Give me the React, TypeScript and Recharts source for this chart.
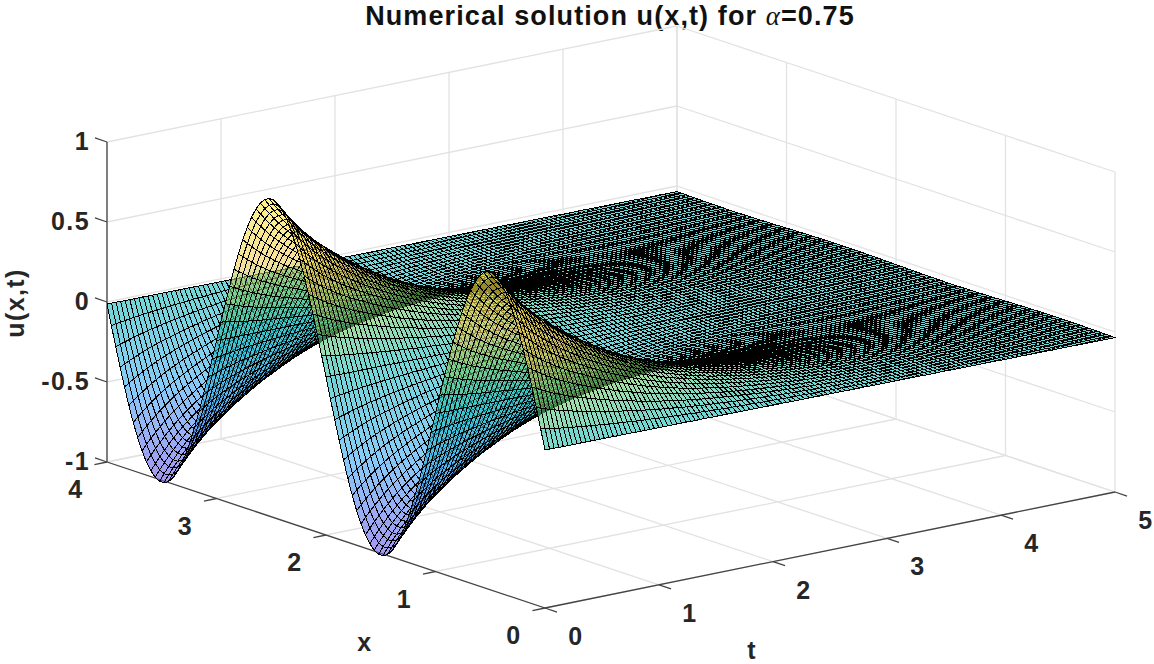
import { Scatter, ScatterChart, XAxis, YAxis } from "recharts";

const WIDTH = 1154;
const HEIGHT = 664;

// u along x at t = 0, one reading every 0.04 in x
const profileAtStart = [
  0, 0.125, 0.249, 0.368, 0.482, 0.588, 0.685, 0.771, 0.844, 0.905, 0.951, 0.982, 0.998, 0.998, 0.982, 0.951, 0.905,
  0.844, 0.771, 0.685, 0.588, 0.482, 0.368, 0.249, 0.125, 0, -0.125, -0.249, -0.368, -0.482, -0.588, -0.685, -0.771,
  -0.844, -0.905, -0.951, -0.982, -0.998, -0.998, -0.982, -0.951, -0.905, -0.844, -0.771, -0.685, -0.588, -0.482,
  -0.368, -0.249, -0.125, 0, 0.125, 0.249, 0.368, 0.482, 0.588, 0.685, 0.771, 0.844, 0.905, 0.951, 0.982, 0.998, 0.998,
  0.982, 0.951, 0.905, 0.844, 0.771, 0.685, 0.588, 0.482, 0.368, 0.249, 0.125, 0, -0.125, -0.249, -0.368, -0.482,
  -0.588, -0.685, -0.771, -0.844, -0.905, -0.951, -0.982, -0.998, -0.998, -0.982, -0.951, -0.905, -0.844, -0.771,
  -0.685, -0.588, -0.482, -0.368, -0.249, -0.125, 0,
];

// how far the wave has decayed, one reading every 0.04 in t
const decayOverTime = [
  1, 0.958, 0.919, 0.882, 0.846, 0.813, 0.782, 0.752, 0.724, 0.697, 0.672, 0.648, 0.625, 0.602, 0.58, 0.558, 0.537,
  0.517, 0.497, 0.478, 0.46, 0.442, 0.424, 0.407, 0.39, 0.374, 0.359, 0.344, 0.33, 0.317, 0.304, 0.292, 0.28, 0.268,
  0.257, 0.247, 0.237, 0.227, 0.218, 0.209, 0.2, 0.192, 0.184, 0.176, 0.169, 0.162, 0.156, 0.149, 0.143, 0.137, 0.132,
  0.126, 0.121, 0.116, 0.112, 0.107, 0.103, 0.099, 0.095, 0.091, 0.087, 0.084, 0.081, 0.077, 0.074, 0.071, 0.069,
  0.066, 0.063, 0.06, 0.058, 0.056, 0.053, 0.051, 0.049, 0.047, 0.045, 0.044, 0.042, 0.04, 0.039, 0.037, 0.036, 0.034,
  0.033, 0.032, 0.031, 0.029, 0.028, 0.027, 0.026, 0.025, 0.024, 0.023, 0.022, 0.021, 0.021, 0.02, 0.019, 0.018, 0.017,
  0.017, 0.016, 0.016, 0.015, 0.014, 0.014, 0.013, 0.013, 0.012, 0.012, 0.011, 0.011, 0.01, 0.01, 0.01, 0.009, 0.009,
  0.009, 0.008, 0.008, 0.008, 0.007, 0.007, 0.007, 0.006,
];

// the surface sits a little under u = 0 on its flat edges, one reading every 0.04 in t
const edgeLevelOverTime = [
  -0.013, -0.013, -0.013, -0.014, -0.014, -0.014, -0.014, -0.014, -0.014, -0.015, -0.015, -0.015, -0.015, -0.015,
  -0.015, -0.016, -0.016, -0.016, -0.016, -0.016, -0.017, -0.017, -0.017, -0.017, -0.017, -0.017, -0.018, -0.018,
  -0.018, -0.018, -0.018, -0.018, -0.019, -0.019, -0.019, -0.019, -0.019, -0.02, -0.02, -0.02, -0.02, -0.02, -0.02,
  -0.021, -0.021, -0.021, -0.021, -0.021, -0.021, -0.022, -0.022, -0.022, -0.022, -0.022, -0.023, -0.023, -0.023,
  -0.023, -0.023, -0.023, -0.024, -0.024, -0.024, -0.024, -0.024, -0.024, -0.025, -0.025, -0.025, -0.025, -0.025,
  -0.026, -0.026, -0.026, -0.026, -0.026, -0.026, -0.027, -0.027, -0.027, -0.027, -0.027, -0.027, -0.028, -0.028,
  -0.028, -0.028, -0.028, -0.028, -0.029, -0.029, -0.029, -0.029, -0.029, -0.03, -0.03, -0.03, -0.03, -0.03, -0.03,
  -0.031, -0.031, -0.031, -0.031, -0.031, -0.031, -0.032, -0.032, -0.032, -0.032, -0.032, -0.033, -0.033, -0.033,
  -0.033, -0.033, -0.033, -0.034, -0.034, -0.034, -0.034, -0.034, -0.034, -0.035, -0.035, -0.035,
];

const xTicks = [0, 1, 2, 3, 4];
const tTicks = [0, 1, 2, 3, 4, 5];
const uTicks = [-1, -0.5, 0, 0.5, 1];
const uTickLabels = ["-1", "-0.5", "0", "0.5", "1"];

const X_STEP = 0.04;
const T_STEP = 0.04;
const FONT = '"Liberation Sans", Arial, sans-serif';

// surface colours by u, picked so they land on the picture once drawn at FACE_ALPHA
const colourStops: [number, number[]][] = [
  [-1, [105, 85, 230]],
  [-0.5, [57, 170, 243]],
  [0, [22, 190, 185]],
  [0.25, [113, 200, 97]],
  [0.5, [240, 205, 90]],
  [1, [255, 238, 60]],
];
const FACE_ALPHA = 0.6;

type Point3 = [number, number, number];

// the orthographic view of the MATLAB axes box
function project([x, t, u]: Point3) {
  return {
    px: 545 - 109.5 * x + 114 * t,
    py: 608 - 36.5 * x - 23.2 * t - 160 * (u + 1),
  };
}

function colourFor(u: number) {
  let i = 0;
  while (i < colourStops.length - 2 && u > colourStops[i + 1][0]) i++;
  const [lo, a] = colourStops[i];
  const [hi, b] = colourStops[i + 1];
  const k = Math.min(1, Math.max(0, (u - lo) / (hi - lo)));
  return `rgb(${a.map((c, n) => Math.round(c + (b[n] - c) * k)).join(",")})`;
}

const nx = profileAtStart.length;
const nt = decayOverTime.length;
const surfaceU = profileAtStart.map((p) => decayOverTime.map((d, j) => p * d + edgeLevelOverTime[j]));
const surfacePoints = surfaceU.flatMap((row, i) => row.map((u, j) => project([i * X_STEP, j * T_STEP, u])));

// far to near, so the painter's order hides what the surface hides
function renderSurface({ points }: any) {
  const cells = [];
  for (let i = nx - 2; i >= 0; i--) {
    for (let j = nt - 2; j >= 0; j--) {
      const a = points[i * nt + j];
      const b = points[i * nt + j + 1];
      const c = points[(i + 1) * nt + j + 1];
      const d = points[(i + 1) * nt + j];
      const mean = (surfaceU[i][j] + surfaceU[i][j + 1] + surfaceU[i + 1][j + 1] + surfaceU[i + 1][j]) / 4;
      cells.push(
        <path
          key={`${i}-${j}`}
          d={`M${a.x} ${a.y}L${b.x} ${b.y}L${c.x} ${c.y}L${d.x} ${d.y}Z`}
          fill={colourFor(mean)}
          fillOpacity={FACE_ALPHA}
          stroke="#000"
          strokeWidth={1}
          shapeRendering="crispEdges"
        />,
      );
    }
  }
  return <g>{cells}</g>;
}

function segmentPoints(segments: [Point3, Point3][]) {
  return segments.flatMap(([from, to]) => [project(from), project(to)]);
}

function segmentRenderer(stroke: string, strokeWidth: number) {
  return ({ points }: any) => {
    const lines = [];
    for (let i = 0; i + 1 < points.length; i += 2) {
      lines.push(
        <line
          key={i}
          x1={points[i].x}
          y1={points[i].y}
          x2={points[i + 1].x}
          y2={points[i + 1].y}
          stroke={stroke}
          strokeWidth={strokeWidth}
        />,
      );
    }
    return <g>{lines}</g>;
  };
}

const gridSegments: [Point3, Point3][] = [
  ...xTicks.map((x): [Point3, Point3] => [[x, 0, -1], [x, 5, -1]]),
  ...tTicks.map((t): [Point3, Point3] => [[0, t, -1], [4, t, -1]]),
  ...tTicks.map((t): [Point3, Point3] => [[4, t, -1], [4, t, 1]]),
  ...uTicks.map((u): [Point3, Point3] => [[4, 0, u], [4, 5, u]]),
  ...xTicks.map((x): [Point3, Point3] => [[x, 5, -1], [x, 5, 1]]),
  ...uTicks.map((u): [Point3, Point3] => [[0, 5, u], [4, 5, u]]),
];

const axisSegments: [Point3, Point3][] = [
  [[4, 0, -1], [0, 0, -1]],
  [[0, 0, -1], [0, 5, -1]],
  [[4, 0, -1], [4, 0, 1]],
  ...xTicks.map((x): [Point3, Point3] => [[x, 0, -1], [x, -0.11, -1]]),
  ...tTicks.map((t): [Point3, Point3] => [[0, t, -1], [-0.11, t, -1]]),
  ...uTicks.map((u): [Point3, Point3] => [[4, 0, u], [4.11, 0, u]]),
];

const xLabelPoints = xTicks.map((x) => ({ ...project([x, 0, -1]), label: String(x) }));
const tLabelPoints = tTicks.map((t) => ({ ...project([0, t, -1]), label: String(t) }));
const uLabelPoints = uTicks.map((u, i) => ({ ...project([4, 0, u]), label: uTickLabels[i] }));

const labelStyle = {
  fontFamily: FONT,
  fontWeight: "bold",
  fontSize: 25,
  letterSpacing: 1.4,
  fill: "#262626",
};

function tickLabel(dx: number, dy: number, anchor: string) {
  return ({ cx, cy, payload }: any) => (
    <text x={cx + dx} y={cy + dy} textAnchor={anchor} dominantBaseline="central" style={labelStyle}>
      {payload.label}
    </text>
  );
}

const hiddenPoint = () => null;

export default function App() {
  return (
    <div style={{ position: "absolute", left: 0, top: 0, width: WIDTH, height: HEIGHT, background: "#fff" }}>
      <ScatterChart width={WIDTH} height={HEIGHT} margin={{ top: 0, right: 0, bottom: 0, left: 0 }}>
        <XAxis type="number" dataKey="px" domain={[0, WIDTH]} hide />
        <YAxis type="number" dataKey="py" domain={[0, HEIGHT]} reversed hide />
        <Scatter
          data={segmentPoints(gridSegments)}
          line={segmentRenderer("#e2e2e2", 1.3)}
          shape={hiddenPoint}
          isAnimationActive={false}
        />
        <Scatter
          data={segmentPoints(axisSegments)}
          line={segmentRenderer("#444", 1.3)}
          shape={hiddenPoint}
          isAnimationActive={false}
        />
        <Scatter data={surfacePoints} line={renderSurface} shape={hiddenPoint} isAnimationActive={false} />
        <Scatter data={xLabelPoints} shape={tickLabel(-31, 27, "middle")} isAnimationActive={false} />
        <Scatter data={tLabelPoints} shape={tickLabel(31, 28, "middle")} isAnimationActive={false} />
        <Scatter data={uLabelPoints} shape={tickLabel(-17, -1, "end")} isAnimationActive={false} />
        <text
          x={610}
          y={25}
          textAnchor="middle"
          style={{ ...labelStyle, fontSize: 27, letterSpacing: 1.1, fill: "#111" }}
        >
          Numerical solution u(x,t) for{" "}
          <tspan fontFamily='"Liberation Serif", serif' fontStyle="italic" fontWeight="normal">
            α
          </tspan>
          =0.75
        </text>
        <text x={365} y={651} textAnchor="middle" style={labelStyle}>
          x
        </text>
        <text x={752} y={659} textAnchor="middle" style={labelStyle}>
          t
        </text>
        <text x={24} y={303} textAnchor="middle" transform="rotate(-90 24 303)" style={labelStyle}>
          u(x,t)
        </text>
      </ScatterChart>
    </div>
  );
}
